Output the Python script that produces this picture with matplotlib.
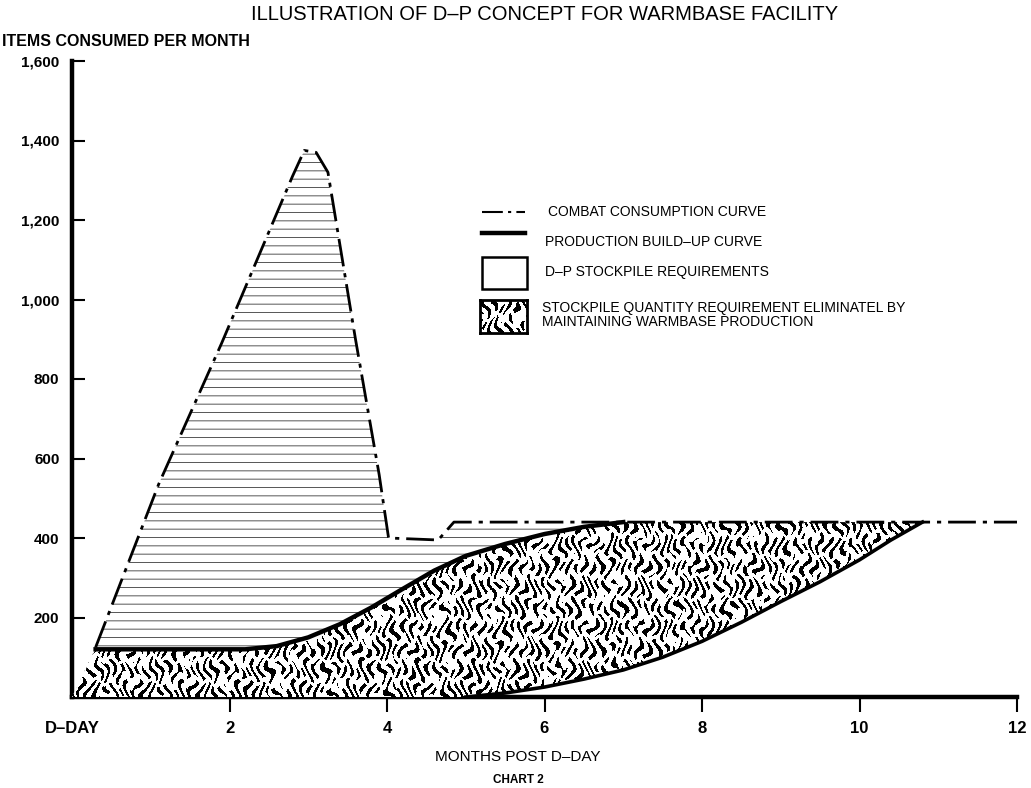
import numpy as np
import matplotlib.pyplot as plt
from matplotlib.lines import Line2D
from matplotlib.patches import Rectangle

# combat consumption curve (dash-dot)
comb_x = [0.3, 1.1, 1.9, 2.5, 2.8, 2.95, 3.1, 3.25, 3.6, 3.9, 4.02, 4.65, 4.85, 12]
comb_y = [125, 535, 890, 1170, 1310, 1375, 1370, 1320, 900, 560, 400, 395, 440, 440]

# production build-up curve (thick)
prod_x = [0, 0.3, 2.2, 2.6, 3.0, 3.4, 3.8, 4.2, 4.6, 5.0, 5.5, 6.0, 6.5, 7.0]
prod_y = [0, 120, 120, 128, 150, 183, 225, 272, 318, 355, 385, 410, 428, 440]

# lower edge of the warmbase area
low_x = [0, 5.0, 5.5, 6.0, 6.5, 7.0, 7.5, 8.0, 8.5, 9.0, 9.5, 10.0, 10.4, 10.8]
low_y = [0, 0, 10, 25, 45, 68, 100, 140, 188, 240, 290, 345, 395, 440]

xticks = [0, 2, 4, 6, 8, 10, 12]
xlabels = ['D–DAY', '2', '4', '6', '8', '10', '12']
yticks = [200, 400, 600, 800, 1000, 1200, 1400, 1600]
ylabels = ['200', '400', '600', '800', '1,000', '1,200', '1,400', '1,600']

legend_labels = ['COMBAT CONSUMPTION CURVE', 'PRODUCTION BUILD–UP CURVE',
                 'D–P STOCKPILE REQUIREMENTS',
                 'STOCKPILE QUANTITY REQUIREMENT ELIMINATEL BY\nMAINTAINING WARMBASE PRODUCTION']

plt.rcParams['font.family'] = ['Liberation Sans', 'DejaVu Sans']
plt.rcParams['hatch.linewidth'] = 0.7

W, H = 1031, 788


def squiggles(w, h):
    # decorative vermiculated screen, like the printed texture
    X, Y = np.meshgrid(np.arange(w), np.arange(h))
    a = np.sin(0.8*X + 3.0*np.sin(0.22*Y + 1.5*np.sin(0.11*X)) + 1.5*np.sin(0.07*Y + 0.13*X))
    b = np.sin(0.3*Y + 1.2*np.sin(0.45*X) + 1.0*np.sin(0.12*X + 0.21*Y))
    return np.where((a > 0.15) & (b > -0.6), 0.0, 1.0)


fig = plt.figure(figsize=(W/100, H/100), dpi=100)
ax = fig.add_axes([72/W, 91/H, 945/W, 636/H])

# hatched D-P stockpile area: between combat and production curves
hx = [x for x in comb_x if x < 7] + prod_x[::-1]
hy = [y for x, y in zip(comb_x, comb_y) if x < 7] + prod_y[::-1]
ax.fill(hx, hy, facecolor='white', edgecolor='#555555', lw=0, hatch='--', zorder=1)

# textured area: between production curve and lower edge
tx = prod_x + [10.8] + low_x[::-1]
ty = prod_y + [440] + low_y[::-1]
poly = ax.fill(tx, ty, facecolor='white', edgecolor='none', zorder=2)[0]
tex = squiggles(945, 200)
im = ax.imshow(tex, cmap='gray', extent=(0, 12, 0, 500), origin='lower', aspect='auto',
               interpolation='nearest', vmin=0, vmax=1, zorder=3)
im.set_clip_path(poly)

ax.plot(comb_x, comb_y, color='black', lw=2, dashes=(10, 2.5, 1.5, 2.5), zorder=4)
ax.plot(prod_x[1:], prod_y[1:], color='black', lw=3.2, zorder=4)
ax.plot(low_x[1:], low_y[1:], color='black', lw=2.6, zorder=4)

ax.set_xlim(0, 12)
ax.set_ylim(0, 1600)
for s in ['top', 'right']:
    ax.spines[s].set_visible(False)
for s in ['left', 'bottom']:
    ax.spines[s].set_linewidth(3.2)

ax.set_xticks(xticks)
ax.set_xticklabels(xlabels, fontweight='bold')
ax.set_yticks(yticks)
ax.set_yticklabels(ylabels, fontweight='bold')
ax.tick_params(axis='x', direction='out', length=11, width=1.5, pad=6, labelsize=12)
ax.tick_params(axis='y', direction='in', length=9, width=1.5, pad=9, labelsize=11)
ax.xaxis.get_major_ticks()[0].tick1line.set_visible(False)

# title and axis texts
fig.text(545/W, 1 - 15/H, 'ILLUSTRATION OF D–P CONCEPT FOR WARMBASE FACILITY',
         ha='center', va='center', fontsize=14.5)
fig.text(2/W, 1 - 42/H, 'ITEMS CONSUMED PER MONTH', ha='left', va='center',
         fontsize=11.5, fontweight='bold')
fig.text(518/W, 1 - 757/H, 'MONTHS POST D–DAY', ha='center', va='center', fontsize=11)
fig.text(518/W, 1 - 780/H, 'CHART 2', ha='center', va='center', fontsize=8.5, fontweight='bold')

# legend drawn by hand
fig.add_artist(Line2D([482/W, 525/W], [1 - 212/H, 1 - 212/H], color='black', lw=1.5,
                      dashes=(10, 2.5, 1.5, 2.5)))
fig.add_artist(Line2D([482/W, 525/W], [1 - 233/H, 1 - 233/H], color='black', lw=3.2))
fig.add_artist(Rectangle((482/W, 1 - 289/H), 45/W, 32/H, transform=fig.transFigure,
                         facecolor='white', edgecolor='black', lw=1.8))
lax = fig.add_axes([480/W, 1 - 333/H, 47/W, 33/H])
lax.imshow(tex[40:73, 100:147], cmap='gray', aspect='auto', interpolation='nearest', vmin=0, vmax=1)
lax.set_xticks([])
lax.set_yticks([])
for s in lax.spines.values():
    s.set_linewidth(2)

fig.text(548/W, 1 - 212/H, legend_labels[0], ha='left', va='center', fontsize=10)
fig.text(545/W, 1 - 242/H, legend_labels[1], ha='left', va='center', fontsize=10)
fig.text(545/W, 1 - 272/H, legend_labels[2], ha='left', va='center', fontsize=10)
fig.text(542/W, 1 - 315/H, legend_labels[3], ha='left', va='center', fontsize=10,
         linespacing=0.95)

fig.savefig('out.png', dpi=100)
